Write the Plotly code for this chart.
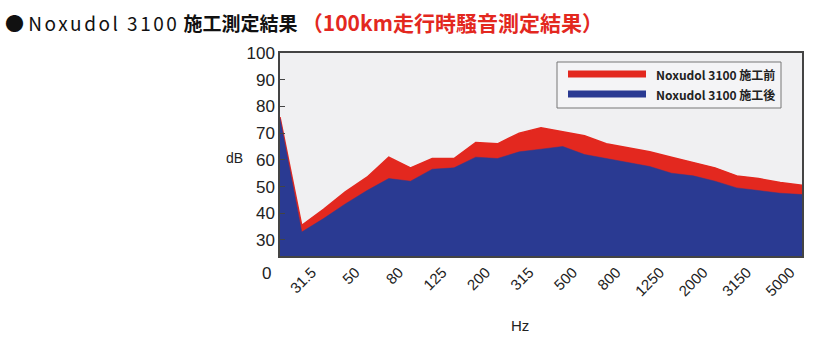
import plotly.graph_objects as go

# Third-octave band centre frequencies (Hz)
bands = ["25", "31.5", "40", "50", "63", "80", "100", "125", "160", "200", "250", "315",
         "400", "500", "630", "800", "1000", "1250", "1600", "2000", "2500", "3150",
         "4000", "5000", "6300"]
# dB before treatment (施工前)
before = [76, 35.5, 41.5, 48, 53.5, 61, 57, 60.5, 60.5, 66.5, 66, 70, 72, 70.5, 69,
          66, 64.5, 63, 61, 59, 57, 54, 53, 51.5, 50.5]
# dB after treatment (施工後)
after = [75.5, 33, 38, 43.5, 48.5, 53, 52, 56.5, 57, 61, 60.5, 63, 64, 65, 62,
         60.5, 59, 57.5, 55, 54, 52, 49.5, 48.5, 47.5, 47]
y_ticks = [30, 40, 50, 60, 70, 80, 90, 100]
label_bands = ["31.5", "50", "80", "125", "200", "315", "500", "800", "1250",
               "2000", "3150", "5000"]

RED = "#e3281f"
BLUE = "#2a3a92"

idx = list(range(len(bands)))
tickvals = [bands.index(b) for b in label_bands]

fig = go.Figure()
fig.add_trace(go.Scatter(x=idx, y=before, mode="lines", fill="tozeroy",
                         fillcolor=RED, line=dict(color=RED, width=1.5),
                         name="Noxudol 3100 施工前", showlegend=False))
fig.add_trace(go.Scatter(x=idx, y=after, mode="lines", fill="tozeroy",
                         fillcolor=BLUE, line=dict(color=BLUE, width=0.5),
                         name="Noxudol 3100 施工後", showlegend=False))

W, H = 824, 344
L, R, T, B = 280, 22, 53, 88
pw, ph = W - L - R, H - T - B

def px(x):
    return (x - L) / pw

def py(y):
    return (H - B - y) / ph

ymin, ymax = 24, 100

fig.update_layout(
    width=W, height=H,
    margin=dict(l=L, r=R, t=T, b=B),
    paper_bgcolor="white",
    plot_bgcolor="#f0f0f2",
    font=dict(family="Liberation Sans, Arial, sans-serif", color="#222"),
    xaxis=dict(range=[0, len(bands) - 1], tickmode="array", tickvals=tickvals,
               ticktext=label_bands, tickangle=-45, ticks="",
               ticklabelstandoff=0, ticklabelshift=10,
               tickfont=dict(size=15), showgrid=False, zeroline=False,
               showline=True, linecolor="#444", linewidth=1.5, mirror=True),
    yaxis=dict(range=[ymin, ymax], tickmode="array", tickvals=y_ticks,
               ticktext=[str(v) for v in y_ticks], ticks="inside", ticklen=5,
               tickcolor="#444", tickfont=dict(size=17), showgrid=False,
               zeroline=False, showline=True, linecolor="#444", linewidth=1.5,
               mirror=True),
)

# broken-axis "0" label below the plot
fig.add_annotation(x=px(273), xref="paper", xanchor="right", y=py(273),
                   yref="paper", yanchor="middle",
                   text="0", showarrow=False, font=dict(size=17, color="#222"))
# axis titles
fig.add_annotation(x=px(224), xref="paper", y=py(158), yref="paper", yanchor="middle",
                   text="dB", showarrow=False, font=dict(size=14, color="#222"))
fig.add_annotation(x=px(520), xref="paper", y=py(325), yref="paper", yanchor="middle",
                   text="Hz", showarrow=False, font=dict(size=15, color="#222"))

# title
fig.add_annotation(
    x=px(3), xref="paper", xanchor="left", y=py(22), yref="paper", yanchor="middle",
    text=("● <span style='letter-spacing:2.5px'>Noxudol 3100</span> <b>施工測定結果</b> "
          "<span style='color:#e3281f;font-size:21px'><b>（100km走行時騒音測定結果）</b></span>"),
    showarrow=False, font=dict(size=19, color="#111",
                               family="Noto Sans CJK JP, sans-serif"))

# manual legend
fig.add_shape(type="rect", xref="paper", yref="paper",
              x0=px(557), x1=px(781), y0=py(62), y1=py(108),
              line=dict(color="#777", width=1), fillcolor="#f4f4f6")
for yy, col, name in [(74, RED, "Noxudol 3100 施工前"), (94, BLUE, "Noxudol 3100 施工後")]:
    fig.add_shape(type="line", xref="paper", yref="paper",
                  x0=px(568), x1=px(646), y0=py(yy), y1=py(yy),
                  line=dict(color=col, width=7))
    fig.add_annotation(x=px(654), xref="paper", xanchor="left", y=py(yy),
                       yref="paper", yanchor="middle",
                       text="<b>" + name + "</b>", showarrow=False,
                       font=dict(size=12, color="#222",
                                 family="Noto Sans CJK JP, sans-serif"))

fig.write_html("out.html")
